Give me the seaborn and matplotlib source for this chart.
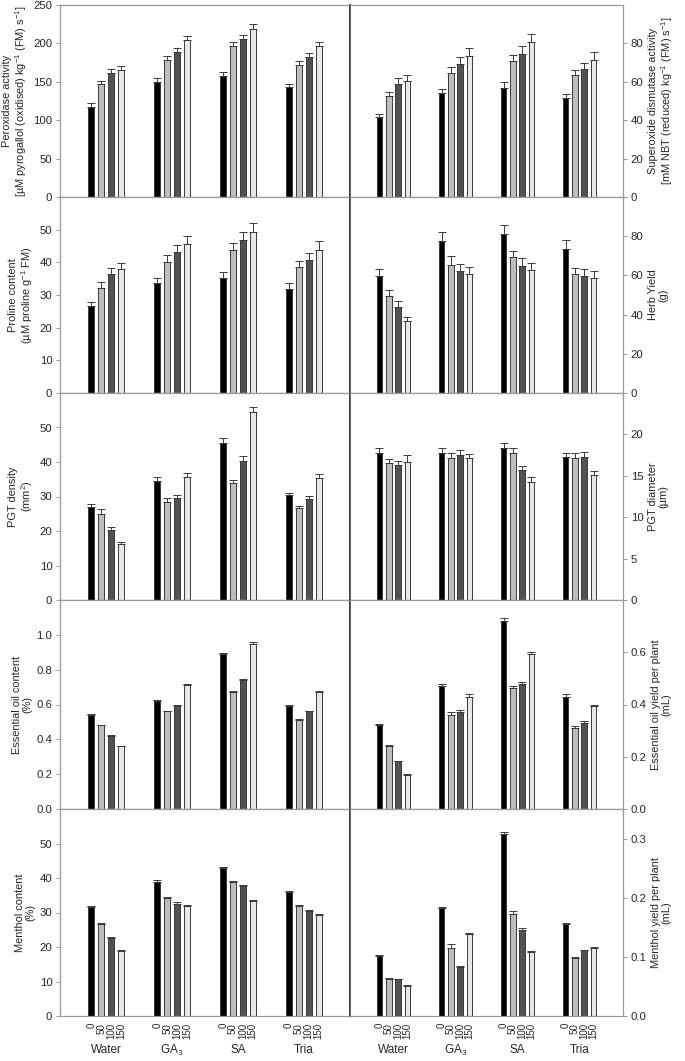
import numpy as np
import pandas as pd
import matplotlib
matplotlib.use("Agg")
import matplotlib.pyplot as plt
import seaborn as sns

# treatment groups and concentrations
GROUPS = ["Water", "GA$_3$", "SA", "Tria"]
CONCS = ["0", "50", "100", "150"]
COLORS = ["#000000", "#bdbdbd", "#525252", "#e8e8e8"]

# values per group (rows) and concentration (columns)
peroxidase = [[117, 147, 162, 166], [150, 178, 189, 204], [158, 196, 206, 219], [143, 172, 182, 197]]
peroxidase_err = [[5, 4, 5, 5], [5, 6, 5, 5], [5, 6, 5, 6], [4, 5, 6, 5]]

sod = [[41.5, 52.5, 58.7, 60.3], [54, 64.7, 69.4, 73.5], [57, 70.7, 74.7, 80.5], [51.5, 63.3, 66.8, 71.4]]
sod_err = [[1.8, 2.4, 3.2, 3], [2.3, 3.1, 3.6, 4.2], [2.8, 3.2, 4, 4.5], [2.3, 3, 3.2, 4.2]]

proline = [[26.5, 32.2, 36.4, 38], [33.6, 40.1, 43.1, 45.6], [35.2, 43.9, 46.7, 49.4], [31.8, 38.5, 40.8, 43.9]]
proline_err = [[1.5, 1.8, 1.8, 1.8], [1.6, 2, 2.1, 2.4], [1.7, 2, 2.6, 2.7], [1.8, 2, 2.1, 2.7]]

herb_yield = [[59.9, 49.6, 43.8, 36.5], [77.8, 65.5, 62.4, 60.7], [80.9, 69.3, 65, 62.8], [73.5, 60.7, 59.9, 58.7]]
herb_yield_err = [[3.6, 3.1, 3, 2.2], [4.4, 4.3, 3.6, 3.6], [5, 3, 3.9, 3.4], [4.4, 3, 3.2, 3.4]]

pgt_density = [[27.1, 24.9, 20.3, 16.2], [34.5, 28.5, 29.5, 35.6], [45.6, 33.8, 40.4, 54.4], [30.3, 26.6, 29.3, 35.3]]
pgt_density_err = [[0.6, 1.4, 0.8, 0.5], [1.1, 1, 1, 1.1], [1.3, 1, 1.2, 1.5], [0.8, 0.7, 0.9, 1.1]]

pgt_diameter = [[17.8, 16.5, 16.3, 16.7], [17.8, 17.2, 17.5, 17.1], [18.4, 17.8, 15.7, 14.3], [17.3, 17.2, 17.3, 15.1]]
pgt_diameter_err = [[0.6, 0.5, 0.5, 0.8], [0.6, 0.5, 0.6, 0.5], [0.6, 0.6, 0.5, 0.5], [0.5, 0.5, 0.6, 0.5]]

oil_content = [[0.54, 0.48, 0.42, 0.36], [0.62, 0.56, 0.59, 0.71], [0.89, 0.67, 0.74, 0.95], [0.59, 0.51, 0.56, 0.67]]
oil_content_err = [[0.006, 0.005, 0.004, 0.004], [0.005, 0.004, 0.005, 0.006], [0.007, 0.005, 0.006, 0.01], [0.005, 0.004, 0.005, 0.006]]

oil_yield = [[0.323, 0.242, 0.182, 0.131], [0.47, 0.36, 0.37, 0.43], [0.72, 0.464, 0.48, 0.592], [0.43, 0.31, 0.33, 0.394]]
oil_yield_err = [[0.004, 0.003, 0.002, 0.002], [0.008, 0.01, 0.01, 0.009], [0.012, 0.008, 0.008, 0.008], [0.009, 0.007, 0.007, 0.006]]

menthol_content = [[31.5, 26.6, 22.5, 18.8], [38.7, 34.3, 32.5, 31.8], [42.8, 38.9, 37.6, 33.4], [35.8, 32, 30.4, 29.4]]
menthol_content_err = [[0.4, 0.3, 0.3, 0.3], [0.6, 0.3, 0.4, 0.3], [0.3, 0.3, 0.3, 0.3], [0.3, 0.3, 0.3, 0.3]]

menthol_yield = [[0.101, 0.063, 0.062, 0.051], [0.182, 0.115, 0.083, 0.139], [0.307, 0.172, 0.146, 0.109], [0.156, 0.098, 0.111, 0.115]]
menthol_yield_err = [[0.002, 0.001, 0.001, 0.001], [0.002, 0.006, 0.001, 0.001], [0.004, 0.005, 0.002, 0.001], [0.002, 0.001, 0.001, 0.001]]

sns.set_theme(style="ticks")
plt.rcParams["font.family"] = ["Liberation Sans", "DejaVu Sans"]
plt.rcParams["mathtext.fontset"] = "custom"
plt.rcParams["mathtext.rm"] = "Liberation Sans"
plt.rcParams["mathtext.it"] = "Liberation Sans:italic"
plt.rcParams["mathtext.bf"] = "Liberation Sans:bold"

W, H = 685, 1061
fig = plt.figure(figsize=(W / 100, H / 100), dpi=100)

ROWS = [(5, 197), (197, 393), (393, 600), (600, 809), (809, 1016)]
COLS = [(60, 350), (350, 623)]

GRAY = "#9a9a9a"
DARK = "#404040"
LABEL_FS = 7.9


def to_df(values, errs):
    rows = []
    for g, gname in enumerate(GROUPS):
        for c, cname in enumerate(CONCS):
            rows.append({"group": gname, "conc": cname,
                         "value": values[g][c], "err": errs[g][c]})
    return pd.DataFrame(rows)


def draw_panel(row, col, values, errs, ymax, yticks, label, fmt=None):
    top, bot = ROWS[row]
    x0, x1 = COLS[col]
    ax = fig.add_axes([x0 / W, 1 - bot / H, (x1 - x0) / W, (bot - top) / H])
    df = to_df(values, errs)
    sns.barplot(data=df, x="group", y="value", hue="conc", order=GROUPS,
                hue_order=CONCS, palette=COLORS, width=0.6, gap=0.38,
                edgecolor="#3a3a3a", linewidth=0.7, errorbar=None,
                legend=False, ax=ax)

    # upper error bars on top of each seaborn bar
    bar_conts = list(ax.containers)[:len(CONCS)]
    xs = []
    for c, cont in enumerate(bar_conts):
        for g, bar in enumerate(cont.patches):
            x = bar.get_x() + bar.get_width() / 2
            y = bar.get_height()
            xs.append(x)
            ax.errorbar(x, y, yerr=[[0], [errs[g][c]]], fmt="none",
                        ecolor="#3a3a3a", elinewidth=0.7, capsize=2.6,
                        capthick=0.7)

    ax.set_xlim(-0.7, 3.7)
    ax.set_ylim(0, ymax)
    ax.set_yticks(yticks)
    if fmt:
        ax.set_yticklabels([fmt.format(t) for t in yticks])
    ax.set_xlabel("")
    ax.tick_params(axis="y", labelsize=8.2, length=3, width=0.7, color=GRAY,
                   pad=2.5)

    for s in ax.spines.values():
        s.set_visible(True)
        s.set_color(GRAY)
        s.set_linewidth(0.9)
    if col == 0:
        ax.spines["right"].set_color(DARK)
        ax.spines["right"].set_linewidth(1.2)
        ax.set_ylabel(label, fontsize=LABEL_FS, labelpad=3, linespacing=1.1)
    else:
        ax.spines["left"].set_color(DARK)
        ax.spines["left"].set_linewidth(1.2)
        ax.yaxis.tick_right()
        ax.yaxis.set_label_position("right")
        ax.set_ylabel(label, fontsize=LABEL_FS, labelpad=3, linespacing=1.1)

    if row == len(ROWS) - 1:
        xs = sorted(xs)
        ax.set_xticks(xs, [CONCS[i % 4] for i in range(len(xs))],
                      rotation=90, fontsize=7)
        ax.tick_params(axis="x", length=0, pad=5)
        for g, gname in enumerate(GROUPS):
            ax.text(g, -0.165, gname, transform=ax.get_xaxis_transform(),
                    ha="center", va="center", fontsize=8.5)
    else:
        ax.set_xticks([])
    return ax


draw_panel(0, 0, peroxidase, peroxidase_err, 250, [0, 50, 100, 150, 200, 250],
           "Peroxidase activity\n[µM pyrogallol (oxidised) kg$^{-1}$ (FM) s$^{-1}$]")
draw_panel(0, 1, sod, sod_err, 100, [0, 20, 40, 60, 80],
           "Superoxide dismutase activity\n[mM NBT (reduced) kg$^{-1}$ (FM) s$^{-1}$]")
draw_panel(1, 0, proline, proline_err, 60, [0, 10, 20, 30, 40, 50],
           "Proline content\n(µM proline g$^{-1}$ FM)")
draw_panel(1, 1, herb_yield, herb_yield_err, 100, [0, 20, 40, 60, 80],
           "Herb Yield\n(g)")
draw_panel(2, 0, pgt_density, pgt_density_err, 60, [0, 10, 20, 30, 40, 50],
           "PGT density\n(mm$^{2}$)")
draw_panel(2, 1, pgt_diameter, pgt_diameter_err, 25, [0, 5, 10, 15, 20],
           "PGT diameter\n(µm)")
draw_panel(3, 0, oil_content, oil_content_err, 1.2, [0, 0.2, 0.4, 0.6, 0.8, 1.0],
           "Essential oil content\n(%)", fmt="{:.1f}")
draw_panel(3, 1, oil_yield, oil_yield_err, 0.8, [0, 0.2, 0.4, 0.6],
           "Essential oil yield per plant\n(mL)", fmt="{:.1f}")
draw_panel(4, 0, menthol_content, menthol_content_err, 60, [0, 10, 20, 30, 40, 50],
           "Menthol content\n(%)")
draw_panel(4, 1, menthol_yield, menthol_yield_err, 0.35, [0, 0.1, 0.2, 0.3],
           "Menthol yield per plant\n(mL)", fmt="{:.1f}")

fig.savefig("out.png", dpi=100)
